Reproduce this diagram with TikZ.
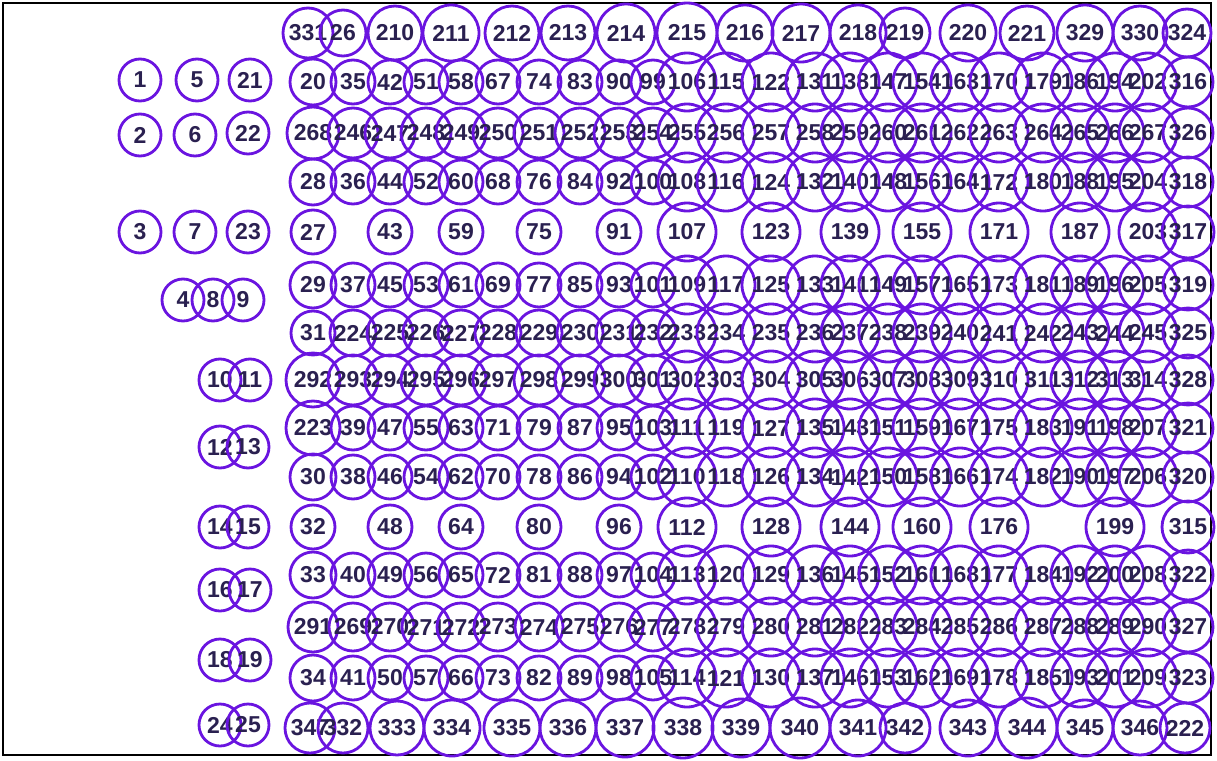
\documentclass[tikz,border=0pt]{standalone}
\usepackage{fontspec}
\setmainfont{Liberation Sans}
\usetikzlibrary{positioning}
\definecolor{ring}{HTML}{6A14E0}
\definecolor{ink}{HTML}{2A2050}
\def\colx{{313,353,390,426,461,498,539,580,619,653,687,726,771,815,850,888,922,960,999,1043,1080,1115,1148,1188}}
\tikzset{cell/.style={circle,draw=ring,line width=2.8pt,inner sep=0pt,text=ink,font=\fontsize{23}{23}\selectfont\bfseries}}
% full row of 24 columns: y, first radius, small radius, labels
\newcommand{\gridrow}[4]{\foreach \l [count=\i from 0] in {#4}{\pgfmathsetmacro\cx{\colx[\i]}\pgfmathsetmacro\rad{\i==0?#2:(\i<10?#3:(\i<23?29:25))}\node[cell,minimum size=2*\rad] (n\l) at (\cx,#1) {\makebox[0pt]{\l}};}}
% sparse row: y, column/label pairs
\newcommand{\sparserow}[2]{\foreach \c/\l in {#2}{\pgfmathsetmacro\cx{\colx[\c]}\pgfmathsetmacro\rad{\c<10?22:(\c<23?29:26)}\node[cell,minimum size=2*\rad] (n\l) at (\cx,#1) {\makebox[0pt]{\l}};}}

\begin{document}
\begin{tikzpicture}[x=1pt,y=-1pt]
\useasboundingbox (0,0) rectangle (1217,760);
\fill[white] (0,0) rectangle (1217,760);\draw[black,line width=2pt] (3,3) rectangle (1211,755);
% left block
\foreach \x/\y/\l in {140/80/1,197/80/5,250/80/21,140/135/2,195/135/6,248/133/22,140/232/3,195/232/7,248/232/23,183/300/4,213/300/8,243/300/9,220/380/10,250/380/11,220/447/12,248/447/13,220/527/14,248/527/15,220/590/16,250/590/17,220/660/18,250/660/19,220/725/24,248/725/25}
  \node[cell,minimum size=42] (n\l) at (\x,\y) {\makebox[0pt]{\l}};
% top and bottom rows
\foreach \x/\l/\rr in {308/331/25,343/26/23,395/210/27,451/211/28,512/212/27,568/213/27,626/214/29,687/215/30,745/216/28,801/217/29,858/218/28,905/219/25,968/220/28,1027/221/27,1085/329/28,1140/330/27,1187/324/24}
  \node[cell,minimum size=2*\rr] (n\l) at (\x,33) {\makebox[0pt]{\l}};
\foreach \x/\l/\rr in {310/347/25,343/332/25,397/333/27,452/334/28,512/335/28,568/336/28,625/337/29,683/338/30,741/339/29,800/340/30,858/341/28,905/342/25,968/343/28,1027/344/30,1085/345/28,1140/346/27,1185/222/25}
  \node[cell,minimum size=2*\rr] (n\l) at (\x,728) {\makebox[0pt]{\l}};
% grid rows
\gridrow{82}{23}{22}{20,35,42,51,58,67,74,83,90,99,106,115,122,131,138,147,154,163,170,179,186,194,202,316}
\gridrow{133}{26}{25}{268,246,247,248,249,250,251,252,253,254,255,256,257,258,259,260,261,262,263,264,265,266,267,326}
\gridrow{182}{23}{22}{28,36,44,52,60,68,76,84,92,100,108,116,124,132,140,148,156,164,172,180,188,195,204,318}
\sparserow{232}{0/27,2/43,4/59,6/75,8/91,10/107,12/123,14/139,16/155,18/171,20/187,22/203,23/317}
\gridrow{285}{23}{22}{29,37,45,53,61,69,77,85,93,101,109,117,125,133,141,149,157,165,173,181,189,196,205,319}
\gridrow{333}{22}{23}{31,224,225,226,227,228,229,230,231,232,233,234,235,236,237,238,239,240,241,242,243,244,245,325}
\gridrow{380}{27}{25}{292,293,294,295,296,297,298,299,300,301,302,303,304,305,306,307,308,309,310,311,312,313,314,328}
\gridrow{428}{27}{22}{223,39,47,55,63,71,79,87,95,103,111,119,127,135,143,151,159,167,175,183,191,198,207,321}
\gridrow{477}{23}{22}{30,38,46,54,62,70,78,86,94,102,110,118,126,134,142,150,158,166,174,182,190,197,206,320}
\sparserow{527}{0/32,2/48,4/64,6/80,8/96,10/112,12/128,14/144,16/160,18/176,21/199,23/315}
\gridrow{575}{23}{22}{33,40,49,56,65,72,81,88,97,104,113,120,129,136,145,152,161,168,177,184,192,200,208,322}
\gridrow{627}{25}{24}{291,269,270,271,272,273,274,275,276,277,278,279,280,281,282,283,284,285,286,287,288,289,290,327}
\gridrow{678}{23}{22}{34,41,50,57,66,73,82,89,98,105,114,121,130,137,146,153,162,169,178,185,193,201,209,323}
\end{tikzpicture}
\end{document}
